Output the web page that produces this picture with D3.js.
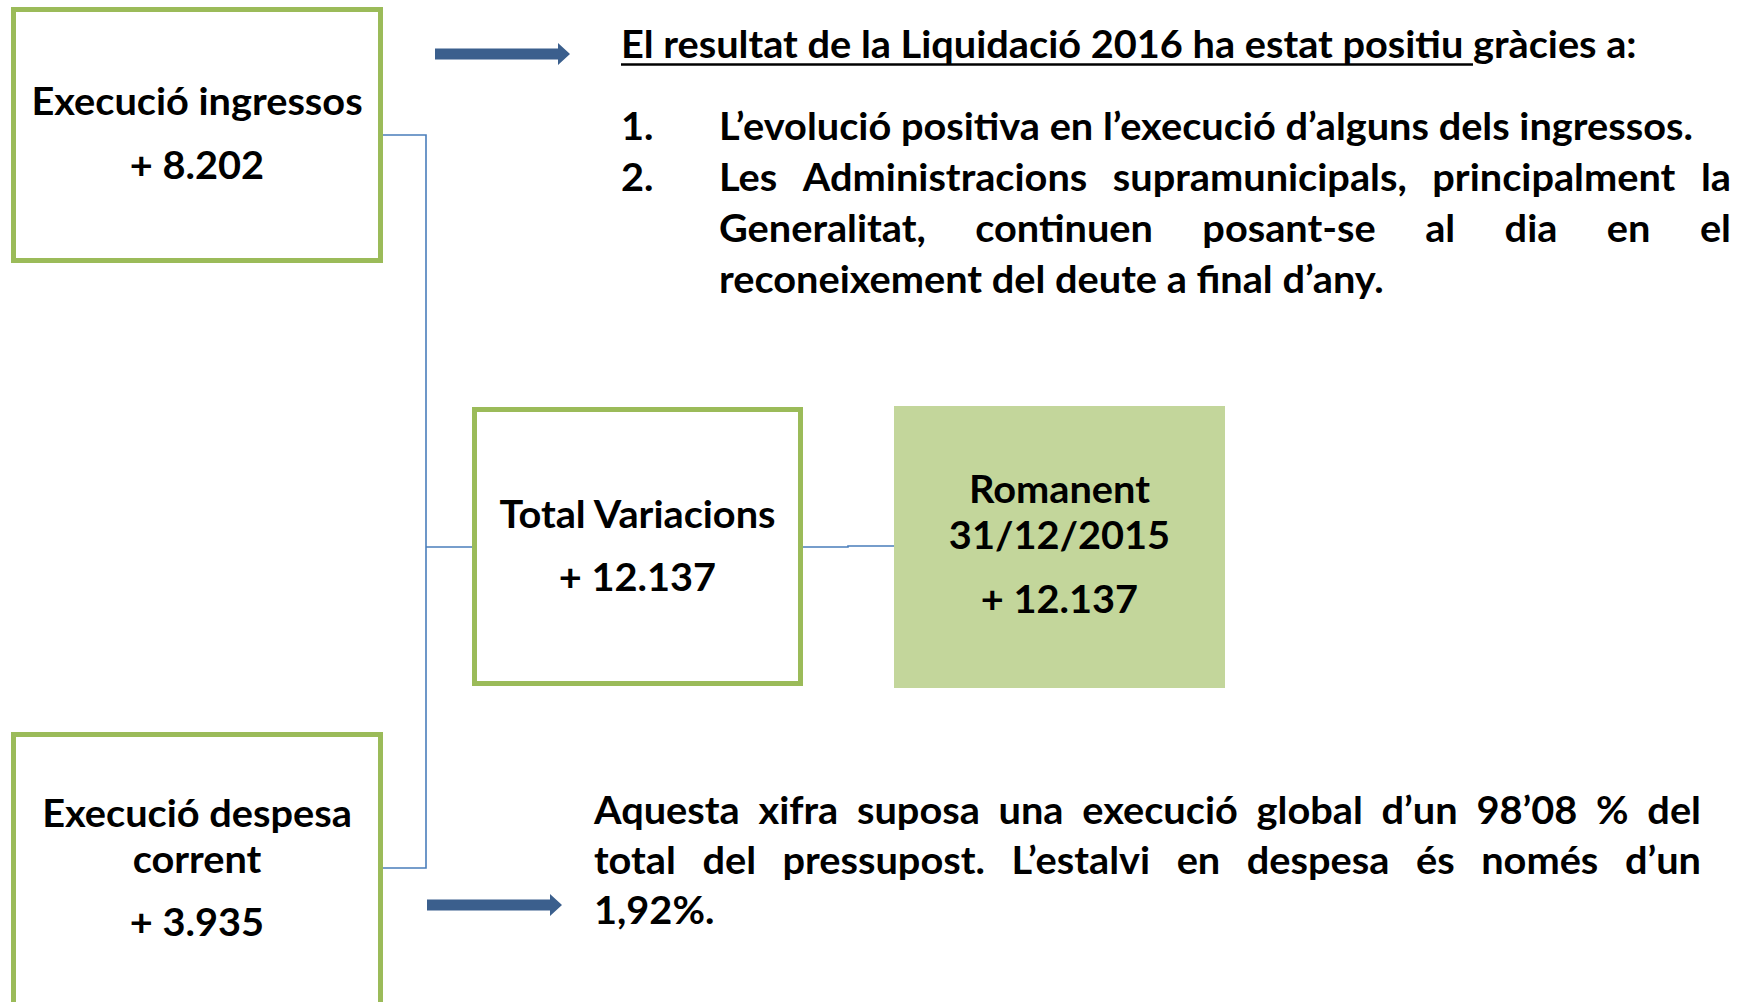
<!DOCTYPE html>
<html>
<head>
<meta charset="utf-8">
<script src="https://cdn.jsdelivr.net/npm/d3@7"></script>
<style>
  body { margin: 0; background: #fff; }
  text { font-family: Lato, "Open Sans", sans-serif; font-weight: 700; font-size: 38px; fill: #000; }
</style>
</head>
<body>
<script>
// dades
const boxNames = [["Execució ingressos"], ["Execució despesa", "corrent"], ["Total Variacions"], ["Romanent", "31/12/2015"]];
const boxValues = [8202, 3935, 12137, 12137];
const headingText = "El resultat de la Liquidació 2016 ha estat positiu gràcies a:";
const underlinedText = "El resultat de la Liquidació 2016 ha estat positiu ";
const itemNumbers = ["1.", "2."];
const itemLines = [
  ["L’evolució positiva en l’execució d’alguns dels ingressos."],
  ["Les Administracions supramunicipals, principalment la",
   "Generalitat, continuen posant-se al dia en el",
   "reconeixement del deute a final d’any."]
];
const noteLines = [
  "Aquesta xifra suposa una execució global d’un 98’08 % del",
  "total del pressupost. L’estalvi en despesa és només d’un",
  "1,92%."
];

// format català: + 12.137
const loc = d3.formatLocale({decimal: ",", thousands: ".", grouping: [3], currency: ["", "€"]});
const fmt = v => "+ " + loc.format(",d")(v);

const svg = d3.select("body").append("svg")
  .attr("width", 1746)
  .attr("height", 1002);

// geometria de les caixes
const boxes = [
  {x: 11, y: 7, w: 372, h: 256, fill: false, lines: [115], val: 179},
  {x: 11, y: 732, w: 372, h: 400, fill: false, lines: [827, 873], val: 936},
  {x: 472, y: 407, w: 331, h: 279, fill: false, lines: [528], val: 591},
  {x: 894, y: 406, w: 331, h: 282, fill: true, lines: [503, 549], val: 613}
];

// factor d'amplada (Calibri és més estret que Lato)
const probe = svg.append("text").text(headingText);
const k = 1016 / probe.node().getComputedTextLength();
probe.remove();

function textAt(g, str, x, y, anchor) {
  const grp = g.append("g").attr("transform", `translate(${x},${y}) scale(${k},1)`);
  return grp.append("text").attr("text-anchor", anchor || "start").text(str);
}

function justified(g, str, x, y, width) {
  const grp = g.append("g").attr("transform", `translate(${x},${y}) scale(${k},1)`);
  const t = grp.append("text");
  const words = str.split(" ");
  const spans = words.map(w => t.append("tspan").text(w));
  const widths = spans.map(s => s.node().getComputedTextLength());
  const gap = (width / k - d3.sum(widths)) / (words.length - 1);
  let cx = 0;
  spans.forEach((s, i) => { s.attr("x", cx); cx += widths[i] + gap; });
}

// connectors
const line = d3.line();
const links = svg.append("g")
  .attr("fill", "none")
  .attr("stroke", "#4A7EBB")
  .attr("stroke-width", 1.6);
links.append("path").attr("d", line([[383, 135], [426, 135], [426, 868], [383, 868]]));
links.append("path").attr("d", line([[426, 547], [472, 547]]));
links.append("path").attr("d", line([[803, 547], [848, 547], [848, 546], [894, 546]]));

// caixes
const boxG = svg.append("g");
boxes.forEach((b, i) => {
  if (b.fill) {
    boxG.append("rect")
      .attr("x", b.x).attr("y", b.y).attr("width", b.w).attr("height", b.h)
      .attr("fill", "#C3D69B");
  } else {
    boxG.append("rect")
      .attr("x", b.x + 2.5).attr("y", b.y + 2.5).attr("width", b.w - 5).attr("height", b.h - 5)
      .attr("fill", "#fff")
      .attr("stroke", "#9BBB59")
      .attr("stroke-width", 5);
  }
  const cx = b.x + b.w / 2;
  boxNames[i].forEach((s, j) => textAt(boxG, s, cx, b.lines[j], "middle"));
  textAt(boxG, fmt(boxValues[i]), cx, b.val, "middle");
});

// fletxes
function arrow(x0, x1, cy) {
  const body = 5.5, head = 11, hl = 12;
  svg.append("path")
    .attr("d", line([[x0, cy - body], [x1 - hl, cy - body], [x1 - hl, cy - head], [x1, cy],
                     [x1 - hl, cy + head], [x1 - hl, cy + body], [x0, cy + body]]) + "Z")
    .attr("fill", "#3B5F8D");
}
arrow(435, 570, 54);
arrow(427, 562, 905);

// text superior
const topG = svg.append("g");
const head = textAt(topG, headingText, 621, 58);
const ulEnd = 621 + k * head.node().getSubStringLength(0, underlinedText.length);
topG.append("line")
  .attr("x1", 621).attr("x2", ulEnd)
  .attr("y1", 64.5).attr("y2", 64.5)
  .attr("stroke", "#000").attr("stroke-width", 2.5);

const itemY = d3.scaleLinear().domain([0, 1]).range([140, 191]);
let row = 0;
itemLines.forEach((lines, i) => {
  textAt(topG, itemNumbers[i], 621, itemY(row));
  lines.forEach((s, j) => {
    const last = j === lines.length - 1;
    if (last) textAt(topG, s, 719, itemY(row));
    else justified(topG, s, 719, itemY(row), 1731 - 719);
    row++;
  });
});

// text inferior
const noteY = d3.scaleLinear().domain([0, 1]).range([824, 874]);
noteLines.forEach((s, i) => {
  if (i === noteLines.length - 1) textAt(svg, s, 594, noteY(i));
  else justified(svg, s, 594, noteY(i), 1701 - 594);
});
</script>
</body>
</html>
